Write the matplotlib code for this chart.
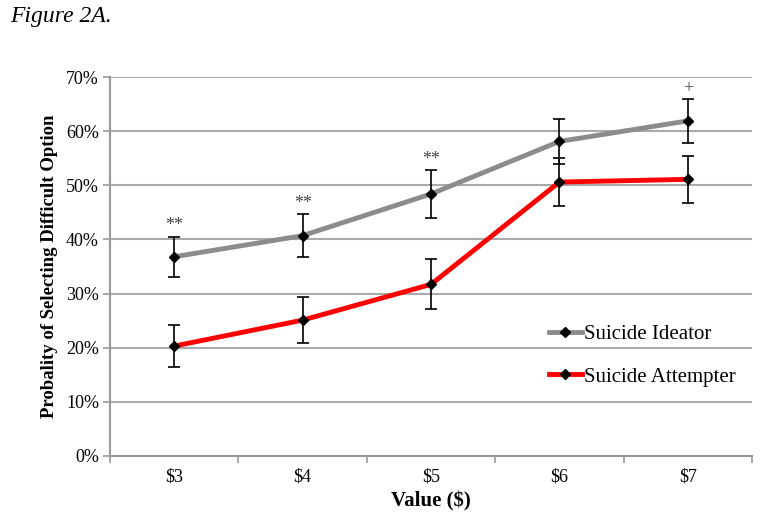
import numpy as np
import matplotlib
matplotlib.use("Agg")
import matplotlib.pyplot as plt
from matplotlib.ticker import PercentFormatter

# values (percent)
categories = ["$3", "$4", "$5", "$6", "$7"]
ideator = [36.8, 40.7, 48.4, 58.1, 61.9]
ideator_err = [3.7, 4.0, 4.4, 4.1, 4.0]
attempter = [20.3, 25.1, 31.7, 50.6, 51.1]
attempter_err = [3.9, 4.3, 4.6, 4.4, 4.3]
sig_labels = ["**", "**", "**", "", "+"]

plt.rcParams["font.family"] = ["Liberation Serif", "DejaVu Serif"]

fig = plt.figure(figsize=(7.62, 5.19), dpi=100)
ax = fig.add_axes([0.1444, 0.1214, 0.8425, 0.7302])

x = np.arange(len(categories))

ax.plot(x, ideator, color="#8c8c8c", lw=3.5, marker="D", ms=5.5,
        mfc="black", mec="black", label="Suicide Ideator", zorder=3)
ax.plot(x, attempter, color="#ff0000", lw=3.5, marker="D", ms=5.5,
        mfc="black", mec="black", label="Suicide Attempter", zorder=3)
ax.errorbar(x, ideator, yerr=ideator_err, fmt="none", ecolor="black",
            elinewidth=1.2, capsize=4, capthick=1.2, zorder=4)
ax.errorbar(x, attempter, yerr=attempter_err, fmt="none", ecolor="black",
            elinewidth=1.2, capsize=4, capthick=1.2, zorder=4)

# significance markers above the ideator error bars
for xi, yi, ei, s in zip(x, ideator, ideator_err, sig_labels):
    if s:
        ax.text(xi, yi + ei + 2.0, s, ha="center", va="center",
                fontsize=13, color="#444444")

ax.set_xlim(-0.5, len(categories) - 0.5)
ax.set_ylim(0, 70)
ax.set_yticks(np.arange(0, 71, 10))
ax.yaxis.set_major_formatter(PercentFormatter(decimals=0))
ax.set_xticks(x)
ax.set_xticklabels(categories)
ax.set_xticks(np.arange(-0.5, len(categories), 1.0), minor=True)
ax.tick_params(axis="x", which="major", length=0, pad=9, labelsize=13)
ax.tick_params(axis="x", which="minor", length=5, color="#999999", width=1.2)
ax.tick_params(axis="y", length=5, color="#999999", width=1.2, labelsize=13, pad=3)

ax.grid(axis="y", color="#aaaaaa", lw=1.5)
ax.set_axisbelow(True)
for side in ["top", "right"]:
    ax.spines[side].set_visible(False)
for side in ["left", "bottom"]:
    ax.spines[side].set_color("#999999")
    ax.spines[side].set_linewidth(1.5)

ax.set_xlabel("Value ($)", fontsize=15, fontweight="bold", labelpad=4)
ax.set_ylabel("Probality of Selecting Difficult Option", fontsize=13.5,
              fontweight="bold", labelpad=6)

ax.legend(loc="center left", bbox_to_anchor=(0.654, 0.265), frameon=False,
          fontsize=15, handlelength=1.6, handletextpad=0.1, labelspacing=1.1)

fig.text(0.013, 0.968, "Figure 2A.", fontsize=17, style="italic", va="center")

fig.savefig("out.png", dpi=100)
